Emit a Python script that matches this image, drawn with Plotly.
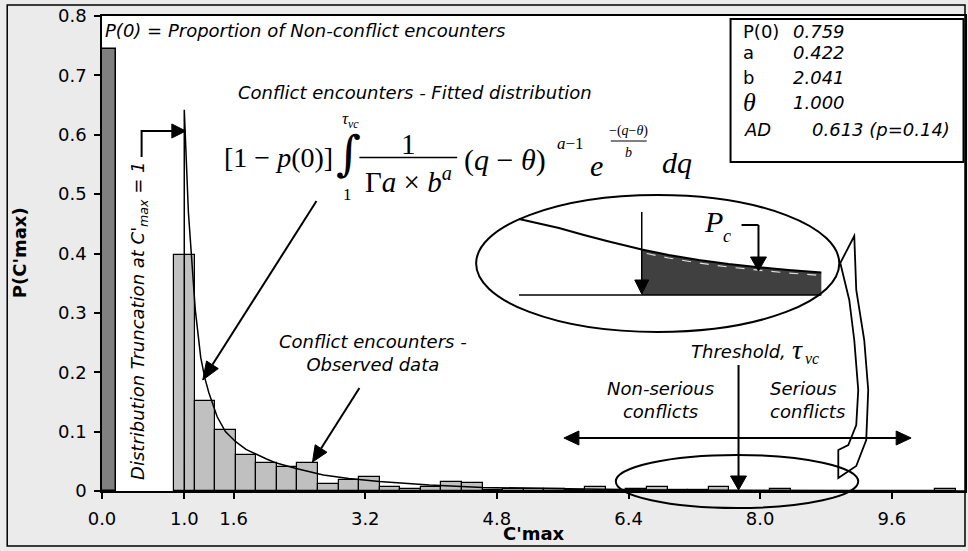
import plotly.graph_objects as go

# ---------------- data ----------------
p0_x = [0.0875]
p0_height = [0.745]
p0_width = [0.175]

bin_centers = [1.0, 1.25, 1.5, 1.75, 2.0, 2.25, 2.5, 2.75, 3.0, 3.25, 3.5, 3.75,
               4.0, 4.25, 4.5, 4.75, 5.0, 5.25, 5.5, 5.75, 6.0, 6.25, 6.5, 6.75,
               7.0, 7.25, 7.5, 7.75, 8.0, 8.25, 8.5, 8.75, 9.0, 9.25, 9.5, 9.75,
               10.0, 10.25]
bin_heights = [0.397, 0.152, 0.103, 0.061, 0.048, 0.041, 0.048, 0.011, 0.0185, 0.023,
               0.007, 0.003, 0.0075, 0.016, 0.013, 0.002, 0.003, 0.003, 0.003, 0.002,
               0.007, 0.001, 0.003, 0.006, 0.001, 0.001, 0.0065, 0.0, 0.0, 0.004,
               0.0, 0.0, 0.0, 0.0, 0.0, 0.0, 0.0, 0.004]

fit_x = [1.0, 1.0, 1.05, 1.1, 1.134, 1.2, 1.25, 1.3, 1.4, 1.5, 1.625, 1.75, 1.88,
         2.0, 2.12, 2.36, 2.69, 3.0, 3.37, 3.98, 4.63, 5.2, 5.68, 6.4, 7.2, 8.0,
         9.0, 10.49]
fit_y = [0.0, 0.642, 0.47, 0.36, 0.305, 0.225, 0.19, 0.165, 0.125, 0.10, 0.083,
         0.070, 0.061, 0.054, 0.047, 0.038, 0.027, 0.021, 0.016, 0.010, 0.006,
         0.0045, 0.003, 0.002, 0.0012, 0.0007, 0.0004, 0.0002]

x_tick_vals = [0.0, 1.0, 1.6, 3.2, 4.8, 6.4, 8.0, 9.6]
x_tick_text = ["0.0", "1.0", "1.6", "3.2", "4.8", "6.4", "8.0", "9.6"]
y_tick_vals = [0, 0.1, 0.2, 0.3, 0.4, 0.5, 0.6, 0.7, 0.8]
y_tick_text = ["0", "0.1", "0.2", "0.3", "0.4", "0.5", "0.6", "0.7", "0.8"]

param_labels = ["P(0)", "a", "b", "θ", "AD"]
param_values = ["0.759", "0.422", "2.041", "1.000", "0.613 (p=0.14)"]

# ---------------- layout helpers (pixel -> paper) ----------------
FW, FH = 968, 551
ML, MR, MT, MB = 102, 1, 16, 60
PW, PH = FW - ML - MR, FH - MT - MB
SANS = "DejaVu Sans"
SERIF = "Liberation Serif"


def PX(x):
    return (x - ML) / PW


def PY(y):
    return (MT + PH - y) / PH


shapes = []
annotations = []


def poly(points, width=2, color="black", close=False, fill=None, dash=None):
    d = "M " + " L ".join(f"{PX(x):.5f},{PY(y):.5f}" for x, y in points)
    if close:
        d += " Z"
    s = dict(type="path", path=d, xref="paper", yref="paper",
             line=dict(color=color, width=width if width else 0))
    if dash:
        s["line"]["dash"] = dash
    if fill:
        s["fillcolor"] = fill
    shapes.append(s)


def arrow(x0, y0, x1, y1, hl=15, hw=7, width=2):
    dx, dy = x1 - x0, y1 - y0
    n = (dx * dx + dy * dy) ** 0.5
    ux, uy = dx / n, dy / n
    bx, by = x1 - ux * hl, y1 - uy * hl
    nx, ny = -uy, ux
    poly([(x0, y0), (bx, by)], width=width)
    poly([(x1, y1), (bx + nx * hw, by + ny * hw), (bx - nx * hw, by - ny * hw)],
         width=1, close=True, fill="black")


def ellipse(x0, y0, x1, y1, width=2):
    shapes.append(dict(type="circle", xref="paper", yref="paper",
                       x0=PX(x0), x1=PX(x1), y0=PY(y1), y1=PY(y0),
                       line=dict(color="black", width=width)))


def rect(x0, y0, x1, y1, width=2, fill=None, layer="above"):
    s = dict(type="rect", xref="paper", yref="paper", layer=layer,
             x0=PX(x0), x1=PX(x1), y0=PY(y1), y1=PY(y0),
             line=dict(color="black", width=width))
    if fill:
        s["fillcolor"] = fill
    shapes.append(s)


def txt(x, y, text, size=18, family=SANS, xanchor="center", angle=0,
        italic=False, bold=False, align="center"):
    annotations.append(dict(
        x=PX(x), y=PY(y), xref="paper", yref="paper", text=text,
        showarrow=False, xanchor=xanchor, yanchor="middle", textangle=angle,
        align=align,
        font=dict(family=family, size=size, color="black",
                  style="italic" if italic else "normal",
                  weight="bold" if bold else "normal")))


# ---------------- traces ----------------
fig = go.Figure()
fig.add_trace(go.Bar(x=p0_x, y=p0_height, width=p0_width,
                     marker=dict(color="#808080", line=dict(color="black", width=1.5)),
                     showlegend=False, hoverinfo="skip"))
fig.add_trace(go.Bar(x=bin_centers, y=bin_heights, width=0.25,
                     marker=dict(color="#c0c0c0", line=dict(color="black", width=1.2)),
                     showlegend=False, hoverinfo="skip"))
fig.add_trace(go.Scatter(x=fit_x, y=fit_y, mode="lines",
                         line=dict(color="black", width=1.5),
                         showlegend=False, hoverinfo="skip"))

# ---------------- decorations ----------------
# outer frame
rect(7, 5, 967, 546, width=1.5, layer="below")

# parameter box
rect(732, 19, 965.5, 162, width=2, fill="white")
rows_y = [32, 53, 77, 103, 129]
for lab, val, yy in zip(param_labels, param_values, rows_y):
    if lab == "θ":
        txt(742, yy, "<i>θ</i>", size=26, family=SERIF, xanchor="left")
    elif lab == "AD":
        txt(743, yy, lab, italic=True, xanchor="left")
    else:
        txt(742, yy, lab, xanchor="left")
    txt(812 if lab == "AD" else 793, yy, val, italic=True, xanchor="left")

# top texts
txt(103, 30, "P(0) = Proportion of Non-conflict encounters", italic=True, xanchor="left")
txt(236, 92, "Conflict encounters - Fitted distribution", italic=True, xanchor="left")

# formula
txt(222, 157, "[1 − <i>p</i>(0)]", size=28, family=SERIF, xanchor="left")
txt(349, 153, "∫", size=48, family="DejaVu Serif")
txt(351, 120, "<i>τ</i><sub><i>vc</i></sub>", size=17, family=SERIF)
txt(348, 194, "1", size=17, family=SERIF)
txt(409, 144, "1", size=29, family=SERIF)
poly([(360, 157.5), (458, 157.5)], width=1.5)
txt(409, 180, "Γ<i>a</i> × <i>b</i><sup><i>a</i></sup>", size=29, family=SERIF)
txt(463, 160, "(<i>q</i> − <i>θ</i>)", size=30, family=SERIF, xanchor="left")
txt(556, 143, "<i>a</i>−1", size=17, family=SERIF, xanchor="left")
txt(598, 165, "<i>e</i>", size=30, family=SERIF)
txt(630, 131, "−(<i>q</i>−<i>θ</i>)", size=14, family=SERIF)
poly([(612, 141), (648, 141)], width=1)
txt(630, 152, "<i>b</i>", size=14, family=SERIF)
txt(678, 162, "<i>dq</i>", size=30, family=SERIF)

# truncation text + bent arrow
txt(139, 321, "Distribution Truncation at C'<sub>max</sub> = 1", italic=True, angle=-90)
poly([(141.7, 157), (141.7, 131), (175, 131)], width=2)
arrow(172, 131, 186, 131, hl=14, hw=7)

# formula -> curve arrow
arrow(317, 201, 203, 380, hl=18, hw=7)

# observed data
txt(374, 353, "Conflict encounters -<br>Observed data", italic=True)
arrow(360, 388, 313, 462, hl=16, hw=7)

# inset ellipse illustration
inset_curve = [(520, 219), (540, 223.5), (560, 228), (585, 235), (610, 241.5),
               (643, 249.5), (670, 255), (700, 260), (730, 264), (760, 267.2),
               (790, 270), (823, 272.5)]
fill_pts = [p for p in inset_curve if p[0] >= 643] + [(823, 295), (643, 295)]
poly(fill_pts, width=0, close=True, fill="#404040")
poly(inset_curve, width=2)
poly([(648, 253.5), (670, 258), (700, 263), (730, 267), (760, 270.2), (790, 273),
      (823, 275.5)], width=1.2, color="#dddddd", dash="dash")
poly([(520, 295), (823, 295)], width=1.5)
ellipse(477, 195, 841, 332, width=2)
arrow(643, 212, 643, 294, hl=14, hw=7, width=1.5)
txt(715, 221, "<i>P</i>", size=30, family=SERIF)
txt(728, 236, "<i>c</i>", size=18, family=SERIF)
poly([(743, 225), (760, 225)], width=2)
arrow(760, 225, 760, 271, hl=14, hw=8)

# callout tail (from the inset ellipse down to the lower ellipse)
poly([(842, 263), (856, 236), (858, 290), (866, 340), (870, 390), (868, 440),
      (858, 466), (840, 478), (840, 450), (850, 445), (858, 425), (860, 390),
      (856, 340), (851, 300), (842, 263)], width=1.8)

# threshold
txt(690, 351, "Threshold,", italic=True, xanchor="left")
txt(792, 349, "<i>τ</i>", size=28, family=SERIF, xanchor="left")
txt(805, 358, "<i>vc</i>", size=16, family=SERIF, xanchor="left")
arrow(740, 365, 740, 490, hl=14, hw=8)

# serious / non-serious
txt(662, 400, "Non-serious<br>conflicts", italic=True)
txt(770, 400, "Serious<br>conflicts", italic=True, xanchor="left", align="left")
poly([(580, 438), (898, 438)], width=2)
arrow(600, 438, 565, 438, hl=15, hw=7)
arrow(880, 438, 913, 438, hl=15, hw=7)

# bottom ellipse
ellipse(617, 455, 860, 508, width=2)

# axis titles
txt(535, 533, "C'max", bold=True)
txt(20, 253, "P(C'max)", bold=True, angle=-90)

fig.update_layout(
    width=FW, height=FH,
    margin=dict(l=ML, r=MR, t=MT, b=MB, pad=0),
    paper_bgcolor="#ebebeb", plot_bgcolor="white",
    barmode="overlay", bargap=0,
    font=dict(family=SANS, size=18, color="black"),
    shapes=shapes, annotations=annotations,
    xaxis=dict(range=[0, PW / 82.46], tickvals=x_tick_vals, ticktext=x_tick_text,
               ticks="outside", ticklen=6, tickwidth=1.5, tickcolor="black",
               showline=True, linecolor="black", linewidth=2, mirror=True,
               showgrid=False, zeroline=False, ticklabelstandoff=4,
               tickfont=dict(family=SANS, size=18)),
    yaxis=dict(range=[0, 0.8], tickvals=y_tick_vals, ticktext=y_tick_text,
               ticks="outside", ticklen=6, tickwidth=1.5, tickcolor="black",
               showline=True, linecolor="black", linewidth=1.5, mirror=True,
               showgrid=False, zeroline=False, ticklabelstandoff=4,
               tickfont=dict(family=SANS, size=18)),
)

fig.write_html("out.html", config={"displayModeBar": False},
               post_script="document.body.style.margin='0';document.body.style.overflow='hidden';")
